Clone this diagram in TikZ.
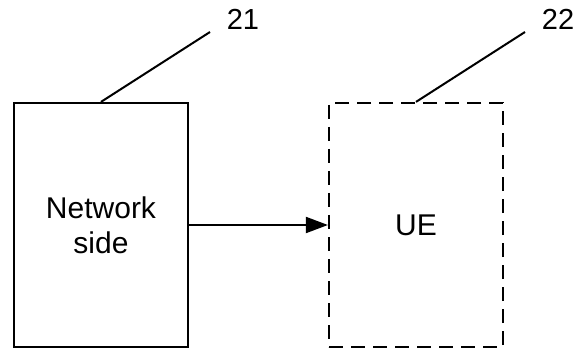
\documentclass[tikz,border=0pt]{standalone}
\usepackage{fontspec}
\setmainfont{Liberation Sans}
\usetikzlibrary{arrows.meta}

\tikzset{
  unit/.style={draw, line width=1.1pt, minimum width=87pt, minimum height=122pt,
    align=center, font=\fontsize{15}{17.5}\selectfont},
  optunit/.style={unit, dash pattern=on 7pt off 4pt},
  refno/.style={font=\fontsize{14.5}{14.5}\selectfont, inner sep=0pt},
  leader/.style={line width=1pt}
}

\begin{document}
\begin{tikzpicture}[x=0.5pt, y=-0.5pt, >={Triangle[length=11pt, width=8pt]}]
    \useasboundingbox (0,0) rectangle (577,352);

    \node[unit] (net) at (101,225) {Network\\side};
    \node[optunit] (ue) at (416,225) {UE};

    \draw[->, line width=1pt] (net.east) -- (ue.west);

    \node[refno] (n21) at (243,19) {21};
    \node[refno] (n22) at (558,19) {22};
    \coordinate (t21) at (210,32);
    \coordinate (t22) at (525,32);
    \draw[leader] (net.north) -- (t21);
    \draw[leader] (ue.north) -- (t22);
\end{tikzpicture}
\end{document}
